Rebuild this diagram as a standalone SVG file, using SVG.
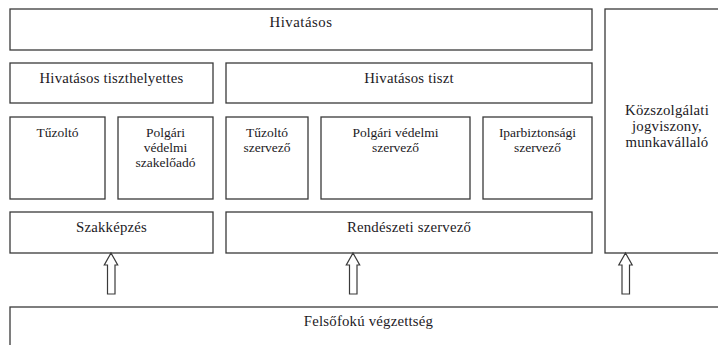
<svg xmlns="http://www.w3.org/2000/svg" width="718" height="345" viewBox="0 0 718 345">
<style>
.box{fill:#fff;stroke:#3a3a3a;stroke-width:1.3}
.t{font-family:"Liberation Serif","Times New Roman",serif;fill:#1c1a24;text-anchor:middle}
.l{font-size:14.8px;letter-spacing:0.2px}
.s{font-size:13.5px}
.arr{fill:#fff;stroke:#3a3a3a;stroke-width:1.2;stroke-linejoin:miter}
</style>
<rect width="718" height="345" fill="#fff"/>
<g id="hivatasos"><rect class="box" x="10" y="9" width="582" height="41"/><text class="t l" x="301" y="27" style="letter-spacing:0.5px">Hivatásos</text></g>
<g id="kozszolgalati"><rect class="box" x="605" y="9" width="124" height="244"/><text class="t l" x="667" y="115">Közszolgálati</text><text class="t l" x="667" y="131">jogviszony,</text><text class="t l" x="667" y="147">munkavállaló</text></g>
<g id="tiszthelyettes"><rect class="box" x="10" y="63" width="203" height="40"/><text class="t l" x="111.5" y="83">Hivatásos tiszthelyettes</text></g>
<g id="tiszt"><rect class="box" x="226" y="63" width="366" height="40"/><text class="t l" x="409" y="83">Hivatásos tiszt</text></g>
<g id="tuzolto"><rect class="box" x="10" y="117" width="95" height="82"/><text class="t s" x="57.5" y="137">Tűzoltó</text></g>
<g id="pv-szakeloado"><rect class="box" x="118" y="117" width="95" height="82"/><text class="t s" x="165.5" y="137">Polgári</text><text class="t s" x="165.5" y="152">védelmi</text><text class="t s" x="165.5" y="167">szakelőadó</text></g>
<g id="tuzolto-szervezo"><rect class="box" x="226" y="117" width="82" height="82"/><text class="t s" x="267" y="137">Tűzoltó</text><text class="t s" x="267" y="152">szervező</text></g>
<g id="pv-szervezo"><rect class="box" x="321" y="117" width="149" height="82"/><text class="t s" x="395.5" y="137">Polgári védelmi</text><text class="t s" x="395.5" y="152">szervező</text></g>
<g id="iparbiztonsagi"><rect class="box" x="483" y="117" width="109" height="82"/><text class="t s" x="537.5" y="137">Iparbiztonsági</text><text class="t s" x="537.5" y="152">szervező</text></g>
<g id="szakkepzes"><rect class="box" x="10" y="212" width="203" height="41"/><text class="t l" x="111.5" y="232">Szakképzés</text></g>
<g id="rendeszeti"><rect class="box" x="226" y="212" width="366" height="41"/><text class="t l" x="409" y="232">Rendészeti szervező</text></g>
<g id="felsofoku"><rect class="box" x="10" y="307" width="717" height="50"/><text class="t l" x="368.5" y="326">Felsőfokú végzettség</text></g>
<g id="connectors">
<path class="arr" d="M111,253 L117.7,265 L115,265 L115,294 L107.5,294 L107.5,265 L104.3,265 Z"/>
<path class="arr" d="M353,253 L359.7,265 L357,265 L357,294 L349.5,294 L349.5,265 L346.3,265 Z"/>
<path class="arr" d="M625.5,253 L632.2,265 L629.5,265 L629.5,294 L622,294 L622,265 L618.8,265 Z"/>
</g>
</svg>
